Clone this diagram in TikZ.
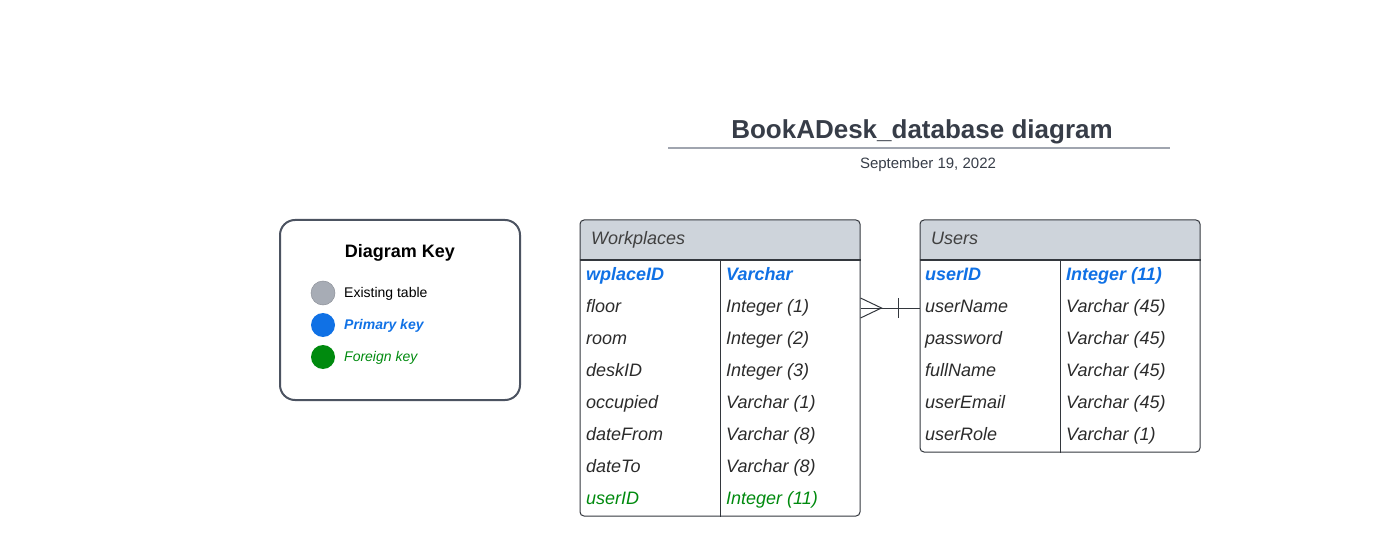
\documentclass[tikz,border=0pt]{standalone}
\usepackage{fontspec}
\setmainfont{Liberation Sans}
\usepackage{tikz}
\usetikzlibrary{positioning,calc}
\definecolor{titlegray}{HTML}{373D48}
\definecolor{rulegray}{HTML}{A0A5AF}
\definecolor{hdrgray}{HTML}{CED4DB}
\definecolor{tblborder}{HTML}{33373D}
\definecolor{fldtext}{HTML}{2B2B2B}
\definecolor{pkblue}{HTML}{1071E5}
\definecolor{fkgreen}{HTML}{008A0E}
\definecolor{keyborder}{HTML}{4C5361}
\definecolor{existgray}{HTML}{A7ACB5}
\tikzstyle{tbl} = [draw=tblborder, line width=1pt, rounded corners=4, inner sep=0pt]
\tikzstyle{sep} = [draw=tblborder, line width=1pt]
\tikzstyle{fld} = [anchor=base west, inner sep=0pt, text=fldtext, font=\fontsize{18}{22}\selectfont\itshape]
\tikzstyle{pk} = [fld, text=pkblue, font=\fontsize{18}{22}\selectfont\bfseries\itshape]
\tikzstyle{fk} = [fld, text=fkgreen]
\tikzstyle{hdr} = [fld, text=fldtext!90]
\tikzstyle{rel} = [draw=tblborder, line width=1pt]
\tikzstyle{dot} = [circle, minimum size=24pt, inner sep=0pt]
\tikzstyle{keytxt} = [anchor=base west, inner sep=0pt, font=\fontsize{14}{16}\selectfont]

\begin{document}
\begin{tikzpicture}[x=1pt, y=-1pt]
    \useasboundingbox (0,0) rectangle (1387,556);
    % title
    \node[anchor=base, inner sep=0pt, text=titlegray, font=\fontsize{26}{30}\selectfont\bfseries] (title) at (922,139) {BookADesk\_database diagram};
    \draw[rulegray, line width=2pt] (668,148) -- (1170,148);
    \node[anchor=base, inner sep=0pt, text=titlegray, font=\fontsize{15}{18}\selectfont] (date) at (928,169) {September 19, 2022};
    % diagram key
    \node[draw=keyborder, line width=2pt, rounded corners=15, minimum width=240pt, minimum height=180pt] (key) at (400,310) {};
    \node[keytxt, anchor=base, font=\fontsize{18}{22}\selectfont\bfseries] (keytitle) at (400,258) {Diagram Key};
    \node[dot, fill=existgray, draw=existgray!85!black, line width=0.5pt] (k1) at (323,293) {};
    \node[dot, fill=pkblue] (k2) at (323,325) {};
    \node[dot, fill=fkgreen] (k3) at (323,357) {};
    \node[keytxt] (k1txt) at (344,297) {Existing table};
    \node[keytxt, text=pkblue, font=\fontsize{14}{16}\selectfont\bfseries\itshape] (k2txt) at (344,329) {Primary key};
    \node[keytxt, text=fkgreen, font=\fontsize{14}{16}\selectfont\itshape] (k3txt) at (344,361) {Foreign key};
    % Workplaces
    \begin{scope}
        \clip[rounded corners=4] (580,220) rectangle (860,516);
        \fill[hdrgray] (580,220) rectangle (860,260);
    \end{scope}
    \node[tbl, minimum width=280pt, minimum height=296pt] (wp) at (720,368) {};
    \draw[sep] (wp.west |- 0,260) -- (wp.east |- 0,260);
    \draw[sep] (720,260) -- (wp.south);
    \node[hdr] (wp-title) at (591,244) {Workplaces};
    \node[pk] (wp-f0) at (586,280) {wplaceID};
    \node[pk] (wp-t0) at (726,280) {Varchar};
    \foreach \name/\type [count=\i] in {floor/Integer (1), room/Integer (2), deskID/Integer (3), occupied/Varchar (1), dateFrom/Varchar (8), dateTo/Varchar (8)} {
        \node[fld] (wp-f\i) at (586,280+32*\i) {\name};
        \node[fld] (wp-t\i) at (726,280+32*\i) {\type};
    }
    \node[fk] (wp-f7) at (586,504) {userID};
    \node[fk] (wp-t7) at (726,504) {Integer (11)};
    % Users
    \begin{scope}
        \clip[rounded corners=4] (920,220) rectangle (1200,452);
        \fill[hdrgray] (920,220) rectangle (1200,260);
    \end{scope}
    \node[tbl, minimum width=280pt, minimum height=232pt] (us) at (1060,336) {};
    \draw[sep] (us.west |- 0,260) -- (us.east |- 0,260);
    \draw[sep] (1060,260) -- (us.south);
    \node[hdr] (us-title) at (931,244) {Users};
    \node[pk] (us-f0) at (925,280) {userID};
    \node[pk] (us-t0) at (1066,280) {Integer (11)};
    \foreach \name/\type [count=\i] in {userName/Varchar (45), password/Varchar (45), fullName/Varchar (45), userEmail/Varchar (45), userRole/Varchar (1)} {
        \node[fld] (us-f\i) at (925,280+32*\i) {\name};
        \node[fld] (us-t\i) at (1066,280+32*\i) {\type};
    }
    % many-to-one link
    \coordinate (lnk) at (890,308);
    \draw[rel] (wp.east |- lnk) -- (us.west |- lnk);
    \draw[rel] ($(wp.east |- lnk)+(0,-10)$) -- ($(wp.east |- lnk)+(21,0)$) -- ($(wp.east |- lnk)+(0,10)$);
    \draw[rel] ($(us.west |- lnk)+(-21,-10)$) -- ++(0,20);
\end{tikzpicture}
\end{document}
